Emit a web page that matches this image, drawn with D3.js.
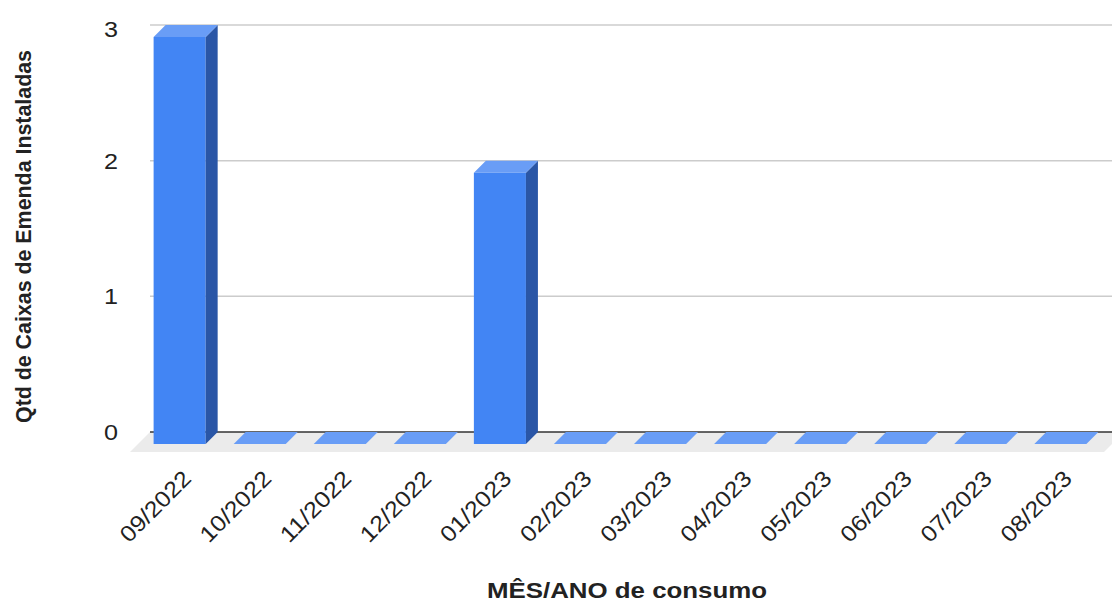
<!DOCTYPE html>
<html>
<head>
<meta charset="utf-8">
<script src="https://cdn.jsdelivr.net/npm/d3@7"></script>
<style>
  html, body { margin: 0; padding: 0; background: #fff; }
  svg { display: block; font-family: Arial, "Liberation Sans", sans-serif; }
</style>
</head>
<body>
<svg id="chart" width="1112" height="603"></svg>
<script>
// Monthly counts of installed splice boxes
const months = ["09/2022","10/2022","11/2022","12/2022","01/2023","02/2023",
                "03/2023","04/2023","05/2023","06/2023","07/2023","08/2023"];
const installed = [3, 0, 0, 0, 2, 0, 0, 0, 0, 0, 0, 0];
const yTicks = [0, 1, 2, 3];

const svg = d3.select("#chart");

// Back wall of the 3D box; bars are pushed forward by `depth`, the floor by `floorDepth`
const backLeft = 150, backRight = 1124;
const depth = 12, floorDepth = 20;

const y = d3.scaleLinear().domain([0, 3]).range([432, 25]);
const x = d3.scaleBand().domain(months).range([148, 1116])
  .paddingInner(0.35).paddingOuter(0.22);

// Floor
svg.append("polygon")
  .attr("points", [
    [backLeft, y(0)], [backRight, y(0)],
    [backRight - floorDepth, y(0) + floorDepth], [backLeft - floorDepth, y(0) + floorDepth]
  ].map(p => p.join(",")).join(" "))
  .attr("fill", "#ebebeb");

// Gridlines on the back wall
svg.append("g").selectAll("line")
  .data(yTicks.filter(t => t !== 0))
  .join("line")
  .attr("x1", backLeft).attr("x2", backRight)
  .attr("y1", d => y(d)).attr("y2", d => y(d))
  .attr("stroke", "#cccccc").attr("stroke-width", 1.5);

// Baseline
svg.append("line")
  .attr("x1", backLeft).attr("x2", backRight)
  .attr("y1", y(0)).attr("y2", y(0))
  .attr("stroke", "#333333").attr("stroke-width", 1.5);

// Y tick labels
svg.append("g").selectAll("text")
  .data(yTicks)
  .join("text")
  .attr("x", 118)
  .attr("y", d => Math.max(y(d) + 8, 36.5))
  .attr("text-anchor", "end")
  .attr("font-size", 22.5)
  .attr("fill", "#222")
  .attr("textLength", 14)
  .attr("lengthAdjust", "spacingAndGlyphs")
  .text(d => d);

// Bars (front face, right side face, top face)
const bars = svg.append("g").selectAll("g")
  .data(months.map((m, i) => ({ m, v: installed[i] })))
  .join("g");

const fx = d => x(d.m) - depth;          // front-left x
const fw = x.bandwidth();
const fyTop = d => y(d.v) + depth;       // front top y
const fyBot = y(0) + depth;              // front bottom y

bars.filter(d => d.v > 0).append("rect")
  .attr("x", fx).attr("y", fyTop)
  .attr("width", fw).attr("height", d => fyBot - fyTop(d))
  .attr("fill", "#4285f4");

bars.filter(d => d.v > 0).append("polygon")
  .attr("points", d => [
    [fx(d) + fw, fyTop(d)], [fx(d) + fw + depth, fyTop(d) - depth],
    [fx(d) + fw + depth, fyBot - depth], [fx(d) + fw, fyBot]
  ].map(p => p.join(",")).join(" "))
  .attr("fill", "#2a56a6");

bars.append("polygon")
  .attr("points", d => [
    [fx(d), fyTop(d)], [fx(d) + fw, fyTop(d)],
    [fx(d) + fw + depth, fyTop(d) - depth], [fx(d) + depth, fyTop(d) - depth]
  ].map(p => p.join(",")).join(" "))
  .attr("fill", "#699df6");

// X tick labels, rotated
svg.append("g").selectAll("text")
  .data(months)
  .join("text")
  .attr("transform", m => `translate(${x(m) - depth + fw / 2 + 13},480) rotate(-45)`)
  .attr("text-anchor", "end")
  .attr("font-size", 22.5)
  .attr("fill", "#222")
  .attr("textLength", 90)
  .attr("lengthAdjust", "spacingAndGlyphs")
  .text(m => m);

// Axis titles
svg.append("text")
  .attr("x", 627).attr("y", 597.5)
  .attr("text-anchor", "middle")
  .attr("font-size", 22).attr("font-weight", "bold")
  .attr("fill", "#222")
  .attr("textLength", 280).attr("lengthAdjust", "spacingAndGlyphs")
  .text("MÊS/ANO de consumo");

svg.append("text")
  .attr("transform", "translate(31,236.5) rotate(-90)")
  .attr("text-anchor", "middle")
  .attr("font-size", 22.5).attr("font-weight", "bold")
  .attr("fill", "#222")
  .attr("textLength", 373).attr("lengthAdjust", "spacingAndGlyphs")
  .text("Qtd de Caixas de Emenda Instaladas");
</script>
</body>
</html>
